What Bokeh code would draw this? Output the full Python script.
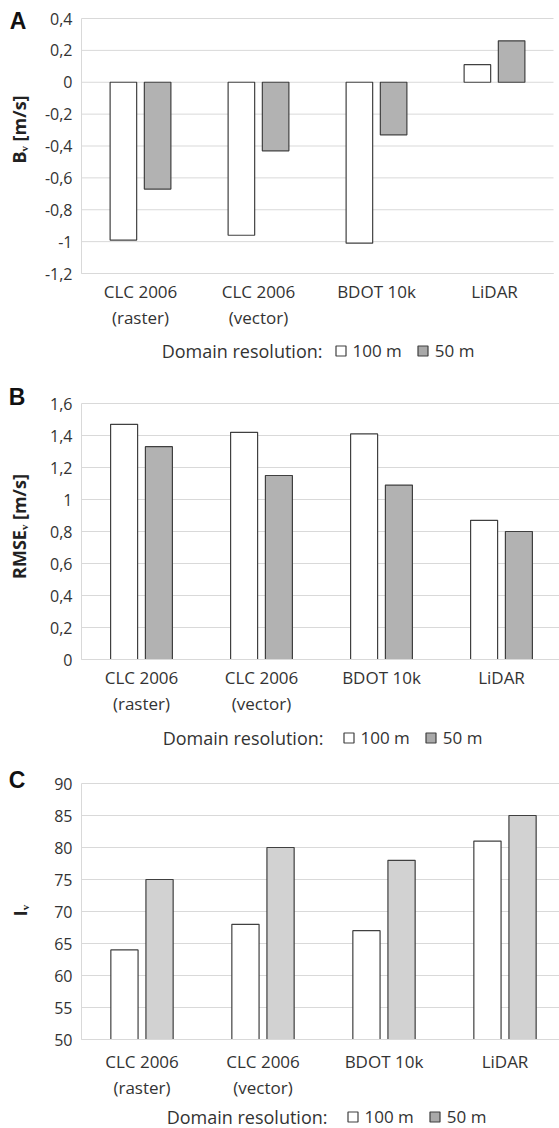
import math
from bokeh.plotting import figure
from bokeh.models import (Range1d, FixedTicker, CustomJSTickFormatter, Label, Legend,
                          LegendItem, ColumnDataSource, LinearAxis)
from bokeh.transform import dodge
from bokeh.layouts import column
from bokeh.embed import file_html
from bokeh.resources import INLINE

# ---------------- data ----------------
categories = ["CLC 2006\n(raster)", "CLC 2006\n(vector)", "BDOT 10k", "LiDAR"]
series = ["100 m", "50 m"]
legend_title = "Domain resolution:"

bias_100 = [-0.99, -0.96, -1.01, 0.11]
bias_50 = [-0.67, -0.43, -0.33, 0.26]

rmse_100 = [1.47, 1.42, 1.41, 0.87]
rmse_50 = [1.33, 1.15, 1.09, 0.80]

index_100 = [64, 68, 67, 81]
index_50 = [75, 80, 78, 85]

bias_ticks = [-1.2, -1.0, -0.8, -0.6, -0.4, -0.2, 0.0, 0.2, 0.4]
rmse_ticks = [0.0, 0.2, 0.4, 0.6, 0.8, 1.0, 1.2, 1.4, 1.6]
index_ticks = [50, 55, 60, 65, 70, 75, 80, 85, 90]

# ---------------- style ----------------
FONT = "Open Sans"
TXT = "#333333"
GRID = "#d9d9d9"
EDGE = "#404040"
WHITE = "#ffffff"
LEG_GRAY = "#a9a9a9"
PAGE_LEFT = 0
FIG_W = 559


def panel(letter, letter_xy, ytitle, ytitle_xy, v100, v50, yticks, gray,
          fig_top, fig_h, plot_left, px_per_cat, plot_top, plot_bottom,
          xlab_standoff, leg_title_right, leg_square_left, leg_cy):
    ymin, ymax = yticks[0], yticks[-1]
    ky = (plot_bottom - plot_top) / (ymax - ymin)
    x_start = (PAGE_LEFT - plot_left) / px_per_cat
    x_end = (PAGE_LEFT + FIG_W - plot_left) / px_per_cat
    y_end = ymax + (plot_top - fig_top) / ky
    y_start = ymin - (fig_top + fig_h - plot_bottom) / ky
    fig_bottom = fig_top + fig_h

    def sx(px):
        return px - PAGE_LEFT

    def sy(py):
        return fig_bottom - py

    p = figure(width=FIG_W, height=fig_h,
               x_range=Range1d(x_start, x_end), y_range=Range1d(y_start, y_end),
               output_backend="svg", toolbar_location=None,
               x_axis_location=None, y_axis_location=None,
               min_border=0, min_border_left=0, min_border_right=0,
               min_border_top=0, min_border_bottom=0)
    p.outline_line_color = None
    p.background_fill_color = "white"
    p.xgrid.visible = False
    p.ygrid.visible = False

    ncat = len(categories)
    centers = [i + 0.5 for i in range(ncat)]

    # horizontal gridlines at the tick values
    p.segment(x0=[0] * len(yticks), x1=[ncat] * len(yticks), y0=yticks, y1=yticks,
              line_color=GRID, line_width=1)

    base = 0 if ymin < 0 else ymin
    src = ColumnDataSource(dict(x=centers, a=v100, b=v50))
    p.vbar(x=dodge("x", -0.145, range=p.x_range), top="a", bottom=base, width=0.225,
           source=src, fill_color=WHITE, line_color=EDGE, line_width=1.2)
    p.vbar(x=dodge("x", 0.145, range=p.x_range), top="b", bottom=base, width=0.225,
           source=src, fill_color=gray, line_color=EDGE, line_width=1.2)

    # y axis
    yaxis = LinearAxis(fixed_location=0, bounds=(ymin, ymax),
                       ticker=FixedTicker(ticks=yticks),
                       formatter=CustomJSTickFormatter(
                           code="const v = Math.round(tick*10)/10; return v.toString().replace('.', ',');"))
    yaxis.axis_line_color = GRID
    yaxis.major_tick_line_color = None
    yaxis.minor_tick_line_color = None
    yaxis.major_tick_out = 0
    yaxis.major_tick_in = 0
    yaxis.major_label_standoff = 9
    yaxis.major_label_text_font = FONT
    yaxis.major_label_text_font_size = "16px"
    yaxis.major_label_text_color = TXT
    p.add_layout(yaxis, "left")

    # x axis (categories)
    xaxis = LinearAxis(fixed_location=ymin, bounds=(0, ncat),
                       ticker=FixedTicker(ticks=centers))
    xaxis.major_label_overrides = {c: lab for c, lab in zip(centers, categories)}
    xaxis.axis_line_color = GRID
    xaxis.major_tick_line_color = None
    xaxis.minor_tick_line_color = None
    xaxis.major_tick_out = 0
    xaxis.major_tick_in = 0
    xaxis.major_label_standoff = xlab_standoff
    xaxis.major_label_text_font = FONT
    xaxis.major_label_text_font_size = "17px"
    xaxis.major_label_text_color = TXT
    xaxis.major_label_text_line_height = 1.15
    p.add_layout(xaxis, "below")

    # panel letter
    p.add_layout(Label(x=sx(letter_xy[0]), y=sy(letter_xy[1]), x_units="screen", y_units="screen",
                       text=letter, text_align="center", text_baseline="middle",
                       text_font="Liberation Sans", text_font_style="bold",
                       text_font_size="23px", text_color="#111111"))
    # y title
    p.add_layout(Label(x=sx(ytitle_xy[0]), y=sy(ytitle_xy[1]), x_units="screen", y_units="screen",
                       text=ytitle, angle=math.pi / 2, text_align="center",
                       text_baseline="middle", text_font=FONT, text_font_style="bold",
                       text_font_size="18px", text_color="#222222"))

    # legend
    nan = float("nan")
    r1 = p.scatter(x=[nan], y=[nan], marker="square", size=10, fill_color=WHITE,
                   line_color=EDGE, line_width=1.2)
    r2 = p.scatter(x=[nan], y=[nan], marker="square", size=10, fill_color=LEG_GRAY,
                   line_color=EDGE, line_width=1.2)
    p.add_layout(Label(x=sx(leg_title_right), y=sy(leg_cy), x_units="screen", y_units="screen",
                       text=legend_title, text_align="right", text_baseline="middle",
                       text_font=FONT, text_font_size="18px", text_color=TXT))
    leg = Legend(items=[LegendItem(label=series[0], renderers=[r1]),
                        LegendItem(label=series[1], renderers=[r2])],
                 orientation="horizontal",
                 location=(sx(leg_square_left) - 7.5, sy(leg_cy) - 12.5),
                 glyph_width=25, glyph_height=25, label_standoff=0, spacing=8,
                 padding=0, margin=0, border_line_color=None, background_fill_alpha=0,
                 label_text_font=FONT, label_text_font_size="17px",
                 label_text_color=TXT, label_text_baseline="middle")
    p.add_layout(leg)
    return p


pA = panel("A", (17.5, 20.5), "B\u1d65 [m/s]", (18.5, 129), bias_100, bias_50, bias_ticks, "#b2b2b2",
           fig_top=0, fig_h=368, plot_left=81, px_per_cat=118, plot_top=18, plot_bottom=273,
           xlab_standoff=6, leg_title_right=322, leg_square_left=335, leg_cy=350)
pB = panel("B", (16.5, 396.5), "RMSE\u1d65 [m/s]", (18.5, 526), rmse_100, rmse_50, rmse_ticks, "#b2b2b2",
           fig_top=368, fig_h=380, plot_left=81, px_per_cat=120, plot_top=403, plot_bottom=659,
           xlab_standoff=6, leg_title_right=323, leg_square_left=343, leg_cy=737)
pC = panel("C", (16.5, 779), "I\u1d65", (19, 910), index_100, index_50, index_ticks, "#d2d2d2",
           fig_top=748, fig_h=380, plot_left=81, px_per_cat=121, plot_top=783, plot_bottom=1039,
           xlab_standoff=10, leg_title_right=327, leg_square_left=347, leg_cy=1116)

layout = column(pA, pB, pC, spacing=0)
open("out.html", "w").write(file_html(layout, INLINE))
